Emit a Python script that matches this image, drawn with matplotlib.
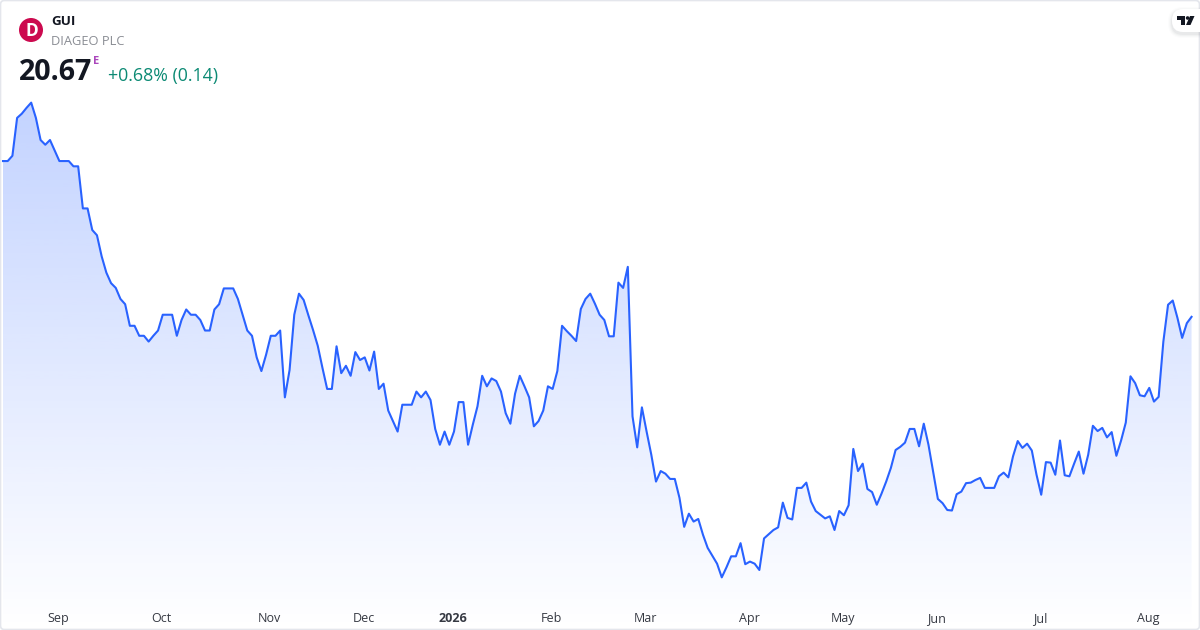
import numpy as np
import matplotlib
matplotlib.use('Agg')
import matplotlib.pyplot as plt
from matplotlib.patches import Circle, FancyBboxPatch, Polygon

plt.rcParams['font.family'] = ['Open Sans', 'DejaVu Sans']

# Daily prices
prices = [
    23.63, 23.63, 23.73, 24.45, 24.53, 24.64, 24.74, 24.45, 24.03, 23.94,
    24.03, 23.83, 23.63, 23.63, 23.63, 23.53, 23.53, 22.73, 22.73, 22.32,
    22.22, 21.82, 21.51, 21.31, 21.22, 21.01, 20.91, 20.50, 20.50, 20.31,
    20.31, 20.20, 20.31, 20.41, 20.71, 20.71, 20.71, 20.31, 20.61, 20.81,
    20.71, 20.71, 20.61, 20.41, 20.41, 20.81, 20.91, 21.21, 21.21, 21.21,
    21.01, 20.71, 20.41, 20.31, 19.90, 19.64, 19.95, 20.31, 20.31, 20.41,
    19.14, 19.66, 20.71, 21.11, 20.99, 20.70, 20.42, 20.12, 19.70, 19.30,
    19.30, 20.11, 19.60, 19.74, 19.55, 20.00, 19.85, 19.90, 19.65, 20.01,
    19.30, 19.40, 18.89, 18.69, 18.49, 19.00, 19.00, 19.00, 19.25, 19.14,
    19.25, 19.09, 18.54, 18.24, 18.49, 18.24, 18.49, 19.05, 19.05, 18.24,
    18.62, 18.97, 19.55, 19.35, 19.50, 19.45, 19.25, 18.84, 18.64, 19.21,
    19.55, 19.35, 19.14, 18.59, 18.69, 18.89, 19.35, 19.30, 19.64, 20.50,
    20.40, 20.31, 20.21, 20.82, 21.01, 21.11, 20.92, 20.71, 20.61, 20.30,
    20.30, 21.32, 21.22, 21.62, 18.78, 18.19, 18.95, 18.49, 18.05, 17.54,
    17.74, 17.69, 17.59, 17.59, 17.23, 16.68, 16.93, 16.78, 16.83, 16.53,
    16.28, 16.13, 15.98, 15.72, 15.91, 16.12, 16.12, 16.37, 15.97, 16.02,
    15.98, 15.86, 16.46, 16.54, 16.62, 16.67, 17.14, 16.85, 16.82, 17.42,
    17.42, 17.52, 17.16, 16.98, 16.91, 16.84, 16.88, 16.62, 16.98, 16.90,
    17.09, 18.16, 17.74, 17.88, 17.40, 17.34, 17.10, 17.31, 17.54, 17.80,
    18.14, 18.20, 18.28, 18.54, 18.54, 18.21, 18.64, 18.24, 17.73, 17.21,
    17.13, 17.00, 16.99, 17.30, 17.35, 17.51, 17.52, 17.57, 17.61, 17.42,
    17.42, 17.42, 17.64, 17.71, 17.62, 18.02, 18.31, 18.18, 18.26, 18.13,
    17.67, 17.29, 17.91, 17.90, 17.67, 18.32, 17.66, 17.64, 17.88, 18.11,
    17.69, 18.05, 18.60, 18.50, 18.56, 18.38, 18.48, 18.03, 18.32, 18.66,
    19.54, 19.41, 19.18, 19.16, 19.32, 19.06, 19.15, 20.20, 20.90, 20.98,
    20.65, 20.27, 20.55, 20.67,
]

# Bar index of each axis label
tick_index = [12, 34, 57, 77, 96, 117, 137, 159, 179, 199, 221, 244]
tick_labels = ['Sep', 'Oct', 'Nov', 'Dec', '2026', 'Feb', 'Mar', 'Apr', 'May', 'Jun', 'Jul', 'Aug']

fig = plt.figure(figsize=(12, 6.3), dpi=100, facecolor='white')

# price panel fills the whole card
ax = fig.add_axes([0, 0, 1, 1])
x = np.arange(len(prices))
ax.axis('off')

# gradient under the line, clipped to the area polygon
top_price = max(prices)
grad = np.linspace(0, 1, 256)
rgba = np.ones((256, 1, 4))
rgba[:, 0, 0] = 41 / 255
rgba[:, 0, 1] = 98 / 255
rgba[:, 0, 3] = 0.28 * (1 - grad)
img = ax.imshow(rgba, extent=(x[0], x[-1], 14.72, top_price), origin='upper',
                aspect='auto', interpolation='bilinear', zorder=1)
area = Polygon(list(zip(x, prices)) + [(x[-1], 14.72), (x[0], 14.72)], closed=True,
               transform=ax.transData, facecolor='none', edgecolor='none')
ax.add_patch(area)
img.set_clip_path(area)
ax.set_xlim(-0.64, 254.8)
ax.set_ylim(14.72, 26.69)

ax.plot(x, prices, color='#2962ff', linewidth=1.5, solid_joinstyle='round', zorder=2)

# month labels
for i, label in zip(tick_index, tick_labels):
    ax.annotate(label, xy=(i, 14.72), xytext=(-1, 11.5), textcoords='offset pixels',
                ha='center', va='center', fontsize=9, color='#131722',
                fontweight='bold' if label == '2026' else 'normal', alpha=0.85)

# header and card furniture in pixel coordinates
ov = fig.add_axes([0, 0, 1, 1], facecolor='none')
ov.set_xlim(0, 1200)
ov.set_ylim(630, 0)
ov.axis('off')

ov.add_patch(FancyBboxPatch((0.5, 0.5), 1199, 629, boxstyle='round,pad=0,rounding_size=4',
                            facecolor='none', edgecolor='#e4e6ec', linewidth=1.2))

ov.add_patch(Circle((31, 30), 12, facecolor='#cc0a4f', edgecolor='none'))
ov.text(31.5, 30.5, 'D', color='white', fontsize=12.5, fontweight='bold', ha='center', va='center')
ov.text(51, 21.5, 'GUI', color='#131722', fontsize=9.6, fontweight='bold', va='center')
ov.text(51, 41.5, 'DIAGEO PLC', color='#8a8d94', fontsize=9.3, va='center')
ov.text(18.5, 72.5, '20.67', color='#131722', fontsize=20.6, fontweight='bold', va='center')
ov.text(93, 61.5, 'E', color='#ab47bc', fontsize=8, fontweight='bold', va='center')
ov.text(108, 75.5, '+0.68% (0.14)', color='#0c8a74', fontsize=12.8, va='center')

# TradingView badge with a soft shadow
for grow, shade in zip([4, 3, 2, 1], [0.015, 0.025, 0.035, 0.05]):
    ov.add_patch(FancyBboxPatch((1172 - grow, 9 - grow + 2), 50, 23 + 2 * grow,
                                boxstyle='round,pad=0,rounding_size=%d' % (11 + grow),
                                facecolor='#50535e', edgecolor='none', alpha=shade, zorder=3))
ov.add_patch(FancyBboxPatch((1172, 9), 50, 23, boxstyle='round,pad=0,rounding_size=11',
                            facecolor='white', edgecolor='none', zorder=4))
ov.add_patch(Polygon([(1177, 16), (1185, 16), (1185, 25), (1181, 25), (1181, 19.5), (1177, 19.5)],
                     closed=True, facecolor='#131722', edgecolor='none', zorder=5))
ov.add_patch(Circle((1187.6, 18), 1.8, facecolor='#131722', edgecolor='none', zorder=5))
ov.add_patch(Polygon([(1190, 16), (1194.5, 16), (1190.5, 25), (1186, 25)],
                     closed=True, facecolor='#131722', edgecolor='none', zorder=5))

fig.savefig('out.png', dpi=100)
